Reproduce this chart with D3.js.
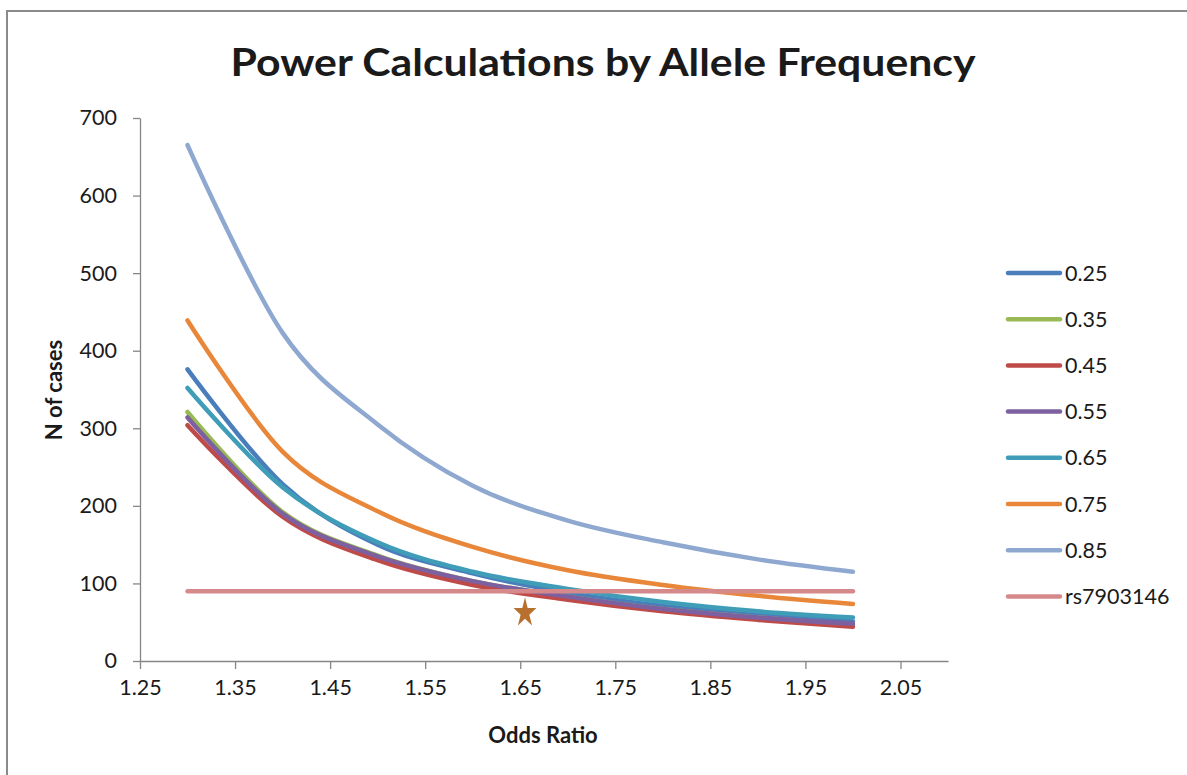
<html>
<head>
<script src="https://d3js.org/d3.v7.min.js"></script>
<style>
  body { margin: 0; background: #fff; }
  text { font-family: Lato, "Open Sans", sans-serif; fill: #1a1a1a; }
</style>
</head>
<body>
<div id="chart-container"></div>
<script>
// Odds ratios the power calculation was run at
const oddsRatio = [1.3, 1.4, 1.5, 1.6, 1.7, 1.8, 1.9, 2.0];

// N of cases per allele frequency
const af025 = [376, 228, 150, 113, 88, 71, 60, 51];
const af035 = [321, 192, 136, 103, 83, 67, 56, 47];
const af045 = [304, 186, 130, 98, 79, 64, 53, 44];
const af055 = [314, 190, 135, 103, 83, 67, 56, 48];
const af065 = [352, 224, 153, 115, 93, 76, 64, 56];
const af075 = [439, 270, 193, 147, 117, 98, 84, 73.5];
const af085 = [665, 423, 305, 226, 181, 153, 131, 115];

// reference line for the SNP
const rsOdds = [1.3, 2.0];
const rsCases = [90, 90];

// star marker
const starPoint = {or: 1.655, n: 62};

const seriesNames = ["0.25", "0.35", "0.45", "0.55", "0.65", "0.75", "0.85", "rs7903146"];
const seriesColors = ["#4A7EBB", "#98B954", "#BE4B48", "#7D60A0", "#3F9DB8", "#E8873A", "#8FA8D0", "#D6898B"];

const xTicks = [1.25, 1.35, 1.45, 1.55, 1.65, 1.75, 1.85, 1.95, 2.05];
const yTicks = [0, 100, 200, 300, 400, 500, 600, 700];

const width = 1187, height = 775;

const series = [af025, af035, af045, af055, af065, af075, af085].map((vals, i) => ({
  name: seriesNames[i],
  color: seriesColors[i],
  points: oddsRatio.map((o, j) => ({or: o, n: vals[j]}))
}));
series.push({
  name: seriesNames[7],
  color: seriesColors[7],
  points: rsOdds.map((o, j) => ({or: o, n: rsCases[j]}))
});

const svg = d3.select("#chart-container")
  .append("svg")
  .attr("width", width)
  .attr("height", height);

svg.append("rect").attr("width", width).attr("height", height).attr("fill", "#fff");

// chart frame (only top and left edges fall inside the picture)
svg.append("rect")
  .attr("x", 7).attr("y", 11)
  .attr("width", 1300).attr("height", 900)
  .attr("fill", "none")
  .attr("stroke", "#8a8a8a")
  .attr("stroke-width", 2);

const xscale = d3.scaleLinear().domain([1.25, 2.1]).range([140, 948]);
const yscale = d3.scaleLinear().domain([0, 700]).range([661, 118]);

// axes
const xAxis = svg.append("g")
  .attr("transform", "translate(0," + yscale(0) + ")")
  .call(d3.axisBottom(xscale).tickValues(xTicks).tickSize(8).tickSizeOuter(0)
    .tickPadding(11).tickFormat(d3.format(".2f")));

const yAxis = svg.append("g")
  .attr("transform", "translate(" + xscale(1.25) + ",0)")
  .call(d3.axisLeft(yscale).tickValues(yTicks).tickSize(7).tickSizeOuter(0).tickPadding(16));

[xAxis, yAxis].forEach(ax => {
  ax.selectAll("path, line").attr("stroke", "#868686").attr("stroke-width", 1.3);
  ax.selectAll("text")
    .style("font-family", "Lato, sans-serif")
    .attr("font-size", 21.5)
    .attr("fill", "#1a1a1a");
});

// lines
const line = d3.line()
  .x(d => xscale(d.or))
  .y(d => yscale(d.n))
  .curve(d3.curveCardinal.tension(0));

svg.append("g")
  .selectAll("path")
  .data(series)
  .enter()
  .append("path")
  .attr("d", d => line(d.points))
  .attr("fill", "none")
  .attr("stroke", d => d.color)
  .attr("stroke-width", 4.5)
  .attr("stroke-linecap", "round")
  .attr("stroke-linejoin", "round");

// star
svg.append("path")
  .attr("d", d3.symbol(d3.symbolStar, 162)())
  .attr("transform", "translate(" + xscale(starPoint.or) + "," + yscale(starPoint.n) + ") scale(1,1.3)")
  .attr("fill", "#B8702E");

// title
svg.append("text")
  .attr("x", 603)
  .attr("y", 76)
  .attr("text-anchor", "middle")
  .attr("font-size", 38)
  .attr("font-weight", "bold")
  .attr("fill", "#000")
  .attr("textLength", 745)
  .attr("lengthAdjust", "spacingAndGlyphs")
  .text("Power Calculations by Allele Frequency");

// axis titles
svg.append("text")
  .attr("x", 543)
  .attr("y", 743)
  .attr("text-anchor", "middle")
  .attr("font-size", 22)
  .attr("font-weight", "bold")
  .attr("fill", "#000")
  .text("Odds Ratio");

svg.append("text")
  .attr("transform", "translate(62,390) rotate(-90)")
  .attr("text-anchor", "middle")
  .attr("font-size", 22)
  .attr("font-weight", "bold")
  .attr("fill", "#000")
  .text("N of cases");

// legend
const legend = svg.append("g")
  .selectAll("g")
  .data(series)
  .enter()
  .append("g")
  .attr("transform", (d, i) => "translate(1008," + (273 + i * 46.2) + ")");

legend.append("line")
  .attr("x1", 0).attr("x2", 52)
  .attr("stroke", d => d.color)
  .attr("stroke-width", 4.5)
  .attr("stroke-linecap", "round");

legend.append("text")
  .attr("x", 57)
  .attr("y", 7.5)
  .attr("font-size", 21.5)
  .text(d => d.name);
</script>
</body>
</html>
